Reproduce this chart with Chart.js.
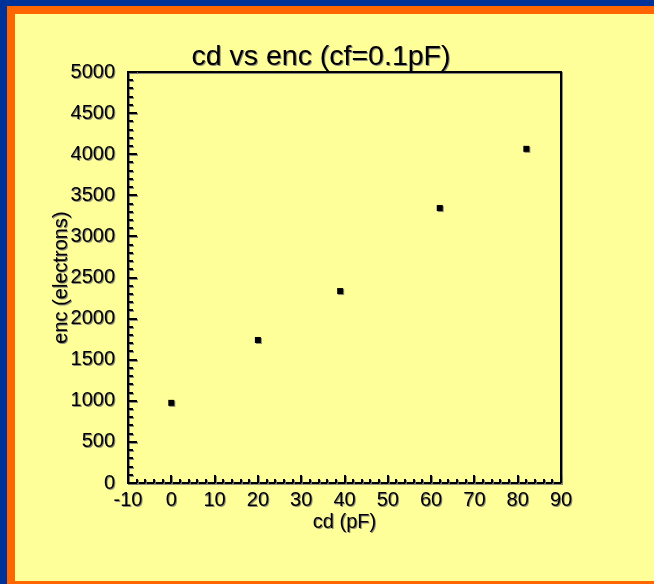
<!DOCTYPE html>
<html>
<head>
<meta charset="utf-8">
<script src="https://cdn.jsdelivr.net/npm/chart.js@4.4.1/dist/chart.umd.min.js"></script>
<style>
  html, body { margin: 0; padding: 0; background: #003399; }
  #wrap { width: 654px; height: 584px; }
</style>
</head>
<body>
<div id="wrap"><canvas id="c" width="654" height="584"></canvas></div>
<script>
// data
const cdValues = [0, 20, 39, 62, 82];          // pF
const encValues = [975, 1740, 2335, 3345, 4065]; // electrons
const chartTitle = 'cd vs enc (cf=0.1pF)';
const xTitle = 'cd (pF)';
const yTitle = 'enc (electrons)';

const FONT = "'Liberation Sans', Arial, Helvetica, sans-serif";

// panel background and text shadow
const framePlugin = {
  id: 'frame',
  beforeDraw(chart) {
    const ctx = chart.ctx;
    ctx.save();
    ctx.fillStyle = '#003399';
    ctx.fillRect(0, 0, 654, 584);
    ctx.fillStyle = '#FF6600';
    ctx.fillRect(7, 6, 647, 578);
    ctx.fillStyle = '#FFFF99';
    ctx.fillRect(15, 14, 639, 567);
    ctx.restore();

    ctx.shadowColor = 'rgba(120,120,120,0.85)';
    ctx.shadowOffsetX = 1;
    ctx.shadowOffsetY = 1;
    ctx.shadowBlur = 0;

    ctx.save();
    ctx.fillStyle = '#000';
    ctx.font = '28.5px ' + FONT;
    ctx.textAlign = 'center';
    ctx.textBaseline = 'middle';
    ctx.fillText(chartTitle, 321, 57);
    ctx.restore();
  },
  beforeDatasetsDraw(chart) {
    const { ctx, chartArea: a, scales } = chart;
    ctx.save();
    ctx.strokeStyle = '#000';
    ctx.lineWidth = 2;
    // top and right edges
    ctx.beginPath();
    ctx.moveTo(a.left, a.top);
    ctx.lineTo(a.right, a.top);
    ctx.lineTo(a.right, a.bottom);
    ctx.stroke();
    // inward ticks
    for (let v = -10; v <= 90; v += 2) {
      const x = Math.round(scales.x.getPixelForValue(v));
      const len = v % 10 === 0 ? 8 : 4;
      ctx.beginPath();
      ctx.moveTo(x, a.bottom);
      ctx.lineTo(x, a.bottom - len);
      ctx.stroke();
    }
    for (let v = 0; v <= 5000; v += 100) {
      const y = Math.round(scales.y.getPixelForValue(v));
      const len = v % 500 === 0 ? 9 : 5;
      ctx.beginPath();
      ctx.moveTo(a.left, y);
      ctx.lineTo(a.left + len, y);
      ctx.stroke();
    }
    ctx.restore();
  },
  afterDraw(chart) {
    const ctx = chart.ctx;
    ctx.shadowColor = 'rgba(0,0,0,0)';
    ctx.shadowOffsetX = 0;
    ctx.shadowOffsetY = 0;
  }
};

new Chart(document.getElementById('c'), {
  type: 'scatter',
  data: {
    datasets: [{
      data: cdValues.map((x, i) => ({ x, y: encValues[i] })),
      pointStyle: 'rect',
      pointRadius: 4.25,
      backgroundColor: '#000',
      borderColor: '#000',
      borderWidth: 0
    }]
  },
  options: {
    responsive: false,
    animation: false,
    layout: { padding: { top: 72, right: 93, left: 0, bottom: 0 } },
    plugins: { legend: { display: false }, tooltip: { enabled: false } },
    scales: {
      x: {
        type: 'linear',
        min: -10, max: 90,
        afterFit(s) { s.height = 101; },
        ticks: { stepSize: 10, color: '#000', padding: 5, maxRotation: 0, callback: v => String(v), font: { family: FONT, size: 20 } },
        grid: { display: true, drawOnChartArea: false, drawTicks: false },
        border: { color: '#000', width: 2 },
        title: { display: true, text: xTitle, color: '#000', font: { family: FONT, size: 20 }, padding: { top: 0, bottom: 50 } }
      },
      y: {
        type: 'linear',
        min: 0, max: 5000,
        afterFit(s) { s.width = 128; },
        ticks: { stepSize: 500, color: '#000', padding: 13, callback: v => String(v), font: { family: FONT, size: 20 } },
        grid: { display: true, drawOnChartArea: false, drawTicks: false },
        border: { color: '#000', width: 2 },
        title: { display: true, text: yTitle, color: '#000', font: { family: FONT, size: 20 }, padding: { top: 49, bottom: 0 } }
      }
    }
  },
  plugins: [framePlugin]
});
</script>
</body>
</html>
